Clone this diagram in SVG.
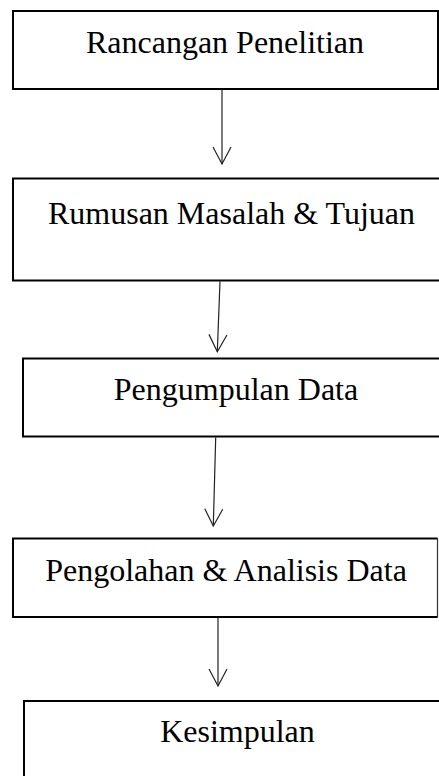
<svg xmlns="http://www.w3.org/2000/svg" width="439" height="776" viewBox="0 0 439 776">
  <style>
    .box { fill: #ffffff; stroke: #000000; stroke-width: 2; }
    .label { font-family: "Liberation Serif", "Times New Roman", serif; font-size: 32px; fill: #000000; text-anchor: middle; }
    .link { fill: none; stroke: #222222; stroke-width: 1.2; marker-end: url(#openArrow); }
  </style>
  <defs>
    <marker id="openArrow" markerUnits="userSpaceOnUse" markerWidth="24" markerHeight="24" viewBox="-20 -12 24 24" refX="0" refY="0" orient="auto">
      <path d="M -17,-9 L 0,0 L -17,9" fill="none" stroke="#222222" stroke-width="1.2"/>
    </marker>
  </defs>
  <rect width="439" height="776" fill="#ffffff"/>

  <g id="connectors">
    <line class="link" x1="222" y1="90" x2="222" y2="164"/>
    <line class="link" x1="220" y1="281.5" x2="217.3" y2="351.7"/>
    <line class="link" x1="215.7" y1="437.5" x2="213.3" y2="526"/>
    <line class="link" x1="218" y1="618" x2="218" y2="686"/>
  </g>

  <g id="rancangan">
    <rect class="box" x="13" y="11" width="425" height="78"/>
    <text class="label" x="225" y="53">Rancangan Penelitian</text>
  </g>

  <g id="rumusan">
    <rect class="box" x="13" y="178.5" width="438" height="102"/>
    <text class="label" x="231.5" y="224">Rumusan Masalah &amp; Tujuan</text>
  </g>

  <g id="pengumpulan">
    <rect class="box" x="23" y="358.5" width="428" height="78"/>
    <text class="label" x="236" y="400">Pengumpulan Data</text>
  </g>

  <g id="pengolahan">
    <path class="box" d="M 437.5,538.5 L 13,538.5 L 13,617 L 437.5,617"/>
    <line x1="437.5" y1="538" x2="437.5" y2="617.5" stroke="#333333" stroke-width="1.2"/>
    <text class="label" x="226" y="581">Pengolahan &amp; Analisis Data</text>
  </g>

  <g id="kesimpulan">
    <rect class="box" x="24" y="701" width="430" height="100"/>
    <text class="label" x="237.5" y="742">Kesimpulan</text>
  </g>
</svg>
